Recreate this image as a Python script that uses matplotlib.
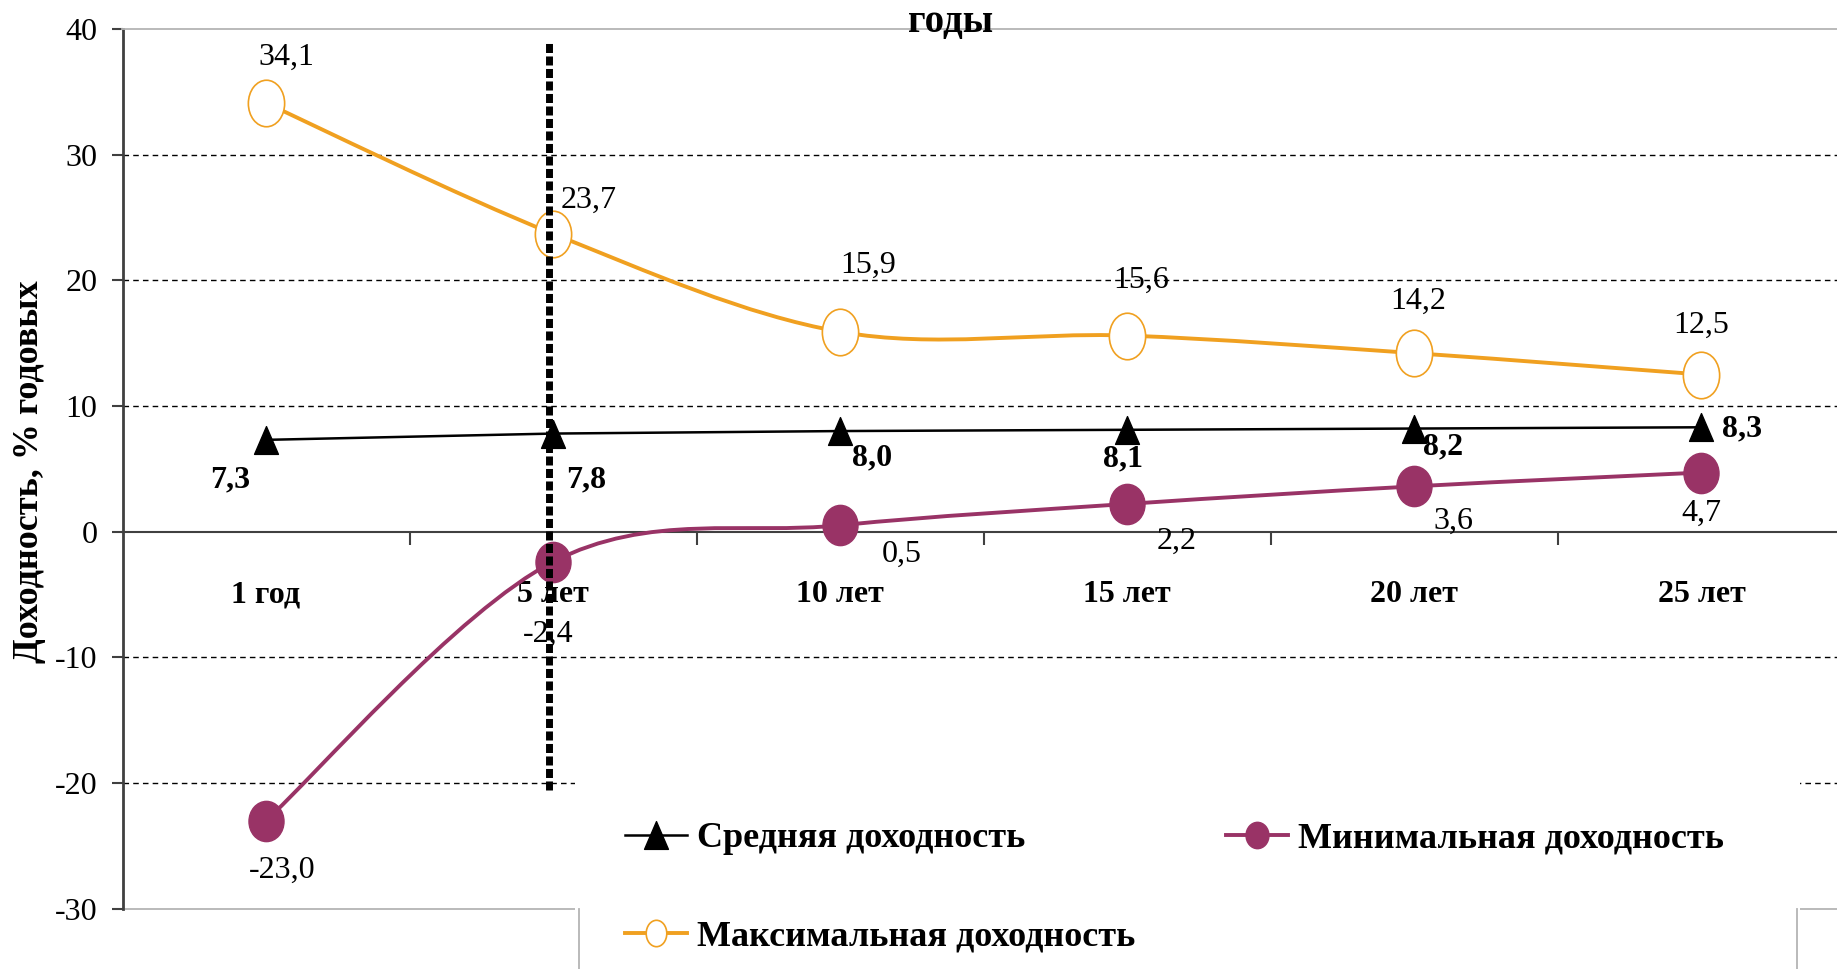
import numpy as np
import matplotlib
matplotlib.use("Agg")
import matplotlib.pyplot as plt
from matplotlib.path import Path
from matplotlib.patches import PathPatch, Rectangle
from matplotlib.lines import Line2D
from matplotlib.transforms import Affine2D
from matplotlib.ticker import FuncFormatter, FixedLocator

plt.rcParams['font.family'] = ['Liberation Serif', 'DejaVu Serif']

# данные
categories = ['1 год', '5 лет', '10 лет', '15 лет', '20 лет', '25 лет']
avg_ret = [7.3, 7.8, 8.0, 8.1, 8.2, 8.3]
min_ret = [-23.0, -2.4, 0.5, 2.2, 3.6, 4.7]
max_ret = [34.1, 23.7, 15.9, 15.6, 14.2, 12.5]
yticks = [-30, -20, -10, 0, 10, 20, 30, 40]

# смещения подписей (пиксели)
off_max = [(20, 46), (35, 33), (28, 66), (14, 55), (4, 52), (0, 49)]
off_avg = [(-36, -40), (33, -46), (32, -27), (-4, -29), (29, -18), (41, -2)]
off_min = [(16, -50), (-5, -73), (62, -29), (49, -37), (39, -35), (0, -41)]

ORANGE = '#F0A020'
PURPLE = '#993366'
AXC = '#404040'
BORDER = '#B4B4B4'

W, H = 1837, 969


def fx(px):
    return px / W


def fy(py):
    return 1 - py / H


def smooth_path(xs, ys):
    pts = np.column_stack([xs, ys]).astype(float)
    n = len(pts)
    verts = [pts[0]]
    codes = [Path.MOVETO]
    for i in range(n - 1):
        p0 = pts[i - 1] if i > 0 else pts[i]
        p1, p2 = pts[i], pts[i + 1]
        p3 = pts[i + 2] if i + 2 < n else pts[i + 1]
        verts += [p1 + (p2 - p0) / 6, p2 - (p3 - p1) / 6, p2]
        codes += [Path.CURVE4] * 3
    return Path(verts, codes)


ellipse_o = Path.unit_circle().transformed(Affine2D().scale(0.78, 1.0))
ellipse_p = Path.unit_circle().transformed(Affine2D().scale(0.87, 1.0))
tri = Path([(0, 1), (-0.86, -1), (0.86, -1), (0, 1)],
           [Path.MOVETO, Path.LINETO, Path.LINETO, Path.CLOSEPOLY])

fig = plt.figure(figsize=(W / 100, H / 100), dpi=100)
ax = fig.add_axes([fx(122.5), fy(908.5), (1845 - 122.5) / W, (908.5 - 29) / H])
x = np.arange(len(categories))

ax.set_xlim(-0.5, len(categories) - 0.5)
ax.set_ylim(-30, 40)

# сетка
for v in [10, 20, 30, -10, -20]:
    ax.axhline(v, color='black', lw=1.0, ls=(0, (4, 3)), zorder=1)

# рамка области построения
ax.spines['top'].set_color(BORDER)
ax.spines['top'].set_linewidth(1.3)
ax.spines['right'].set_visible(False)
ax.spines['bottom'].set_position(('data', 0))
ax.spines['bottom'].set_color(AXC)
ax.spines['bottom'].set_linewidth(1.5)
ax.spines['left'].set_color(AXC)
ax.spines['left'].set_linewidth(2)
ax.axhline(-30, color=BORDER, lw=1.3, clip_on=False, zorder=1)

# линии
ax.add_patch(PathPatch(smooth_path(x, max_ret), facecolor='none',
                       edgecolor=ORANGE, lw=2.8, zorder=3))
ax.add_patch(PathPatch(smooth_path(x, min_ret), facecolor='none',
                       edgecolor=PURPLE, lw=2.8, zorder=3))
ax.plot(x, avg_ret, color='black', lw=1.8, zorder=3)

ax.plot(x, max_ret, ls='none', marker=ellipse_o, ms=33.5, mfc='white',
        mec=ORANGE, mew=1.2, zorder=4)
ax.plot(x, min_ret, ls='none', marker=ellipse_p, ms=29, mfc=PURPLE,
        mec=PURPLE, zorder=4)
ax.plot(x, avg_ret, ls='none', marker=tri, ms=20, mfc='black',
        mec='black', zorder=4)

# вертикальная пунктирная линия
DIV_X = 0.985
DIV_Y = (-20.6, 38.9)
ax.plot([DIV_X, DIV_X], DIV_Y, color='black', lw=5, ls=(0, (1.3, 0.5)),
        solid_capstyle='butt', dash_capstyle='butt', zorder=5)


def fmt(v):
    return f"{v:.1f}".replace('.', ',')


for i in range(len(categories)):
    ax.annotate(fmt(max_ret[i]), (x[i], max_ret[i]), xytext=off_max[i],
                textcoords='offset pixels', ha='center', va='center',
                fontsize=23, zorder=6)
    ax.annotate(fmt(avg_ret[i]), (x[i], avg_ret[i]), xytext=off_avg[i],
                textcoords='offset pixels', ha='center', va='center',
                fontsize=23, fontweight='bold', zorder=6)
    ax.annotate(fmt(min_ret[i]), (x[i], min_ret[i]), xytext=off_min[i],
                textcoords='offset pixels', ha='center', va='center',
                fontsize=23, zorder=6)

# оси
ax.set_xticks(x)
ax.set_xticklabels(categories, fontsize=23, fontweight='bold')
ax.xaxis.set_minor_locator(FixedLocator(x[:-1] + 0.5))
ax.tick_params(axis='x', which='major', length=0, pad=35)
ax.tick_params(axis='x', which='minor', length=9.5, width=1.5,
               color=AXC, direction='out')
ax.set_yticks(yticks)
ax.yaxis.set_major_formatter(FuncFormatter(lambda v, p: f"{v:g}"))
ax.tick_params(axis='y', length=8, width=1.5, color=AXC, labelsize=23, pad=10)

ax.set_ylabel('Доходность, % годовых', fontsize=26, fontweight='bold',
              va='center')
ax.yaxis.set_label_coords((30 - 122.5) / (1845 - 122.5), 0.497)

fig.text(fx(951), fy(32), 'годы', ha='center', va='baseline',
         fontsize=28, fontweight='bold')

# область легенды
fig.add_artist(Rectangle((fx(575), 0), fx(1800) - fx(575), fy(770),
                         transform=fig.transFigure, facecolor='white',
                         edgecolor='none', zorder=1))
for px in (579, 1797):
    fig.add_artist(Line2D([fx(px), fx(px)], [0, fy(908.5)],
                          transform=fig.transFigure, color=BORDER, lw=1.3,
                          zorder=2))

h_avg = Line2D([], [], color='black', lw=1.8, marker=tri, ms=20,
               mfc='black', mec='black')
h_max = Line2D([], [], color=ORANGE, lw=2.8, marker=ellipse_o, ms=19,
               mfc='white', mec=ORANGE, mew=1.2)
h_min = Line2D([], [], color=PURPLE, lw=2.8, marker=ellipse_p, ms=19,
               mfc=PURPLE, mec=PURPLE)
fig.legend([h_avg, h_max, h_min],
           ['Средняя доходность', 'Максимальная доходность',
            'Минимальная доходность'],
           ncol=2, loc='upper left', bbox_to_anchor=(fx(625), fy(822)),
           frameon=False, borderpad=0, borderaxespad=0,
           prop={'size': 26, 'weight': 'bold'},
           handlelength=1.72, handletextpad=0.28, columnspacing=2.5,
           labelspacing=1.8, markerscale=1.0)

fig.savefig('out.png', dpi=100)
